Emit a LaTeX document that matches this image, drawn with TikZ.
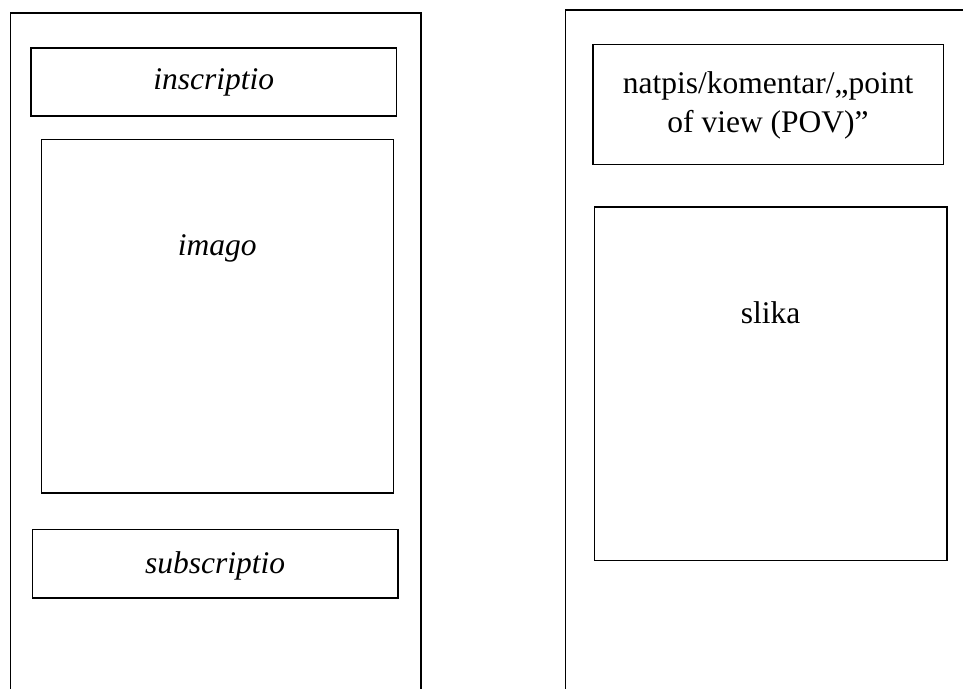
\documentclass[tikz,border=0pt]{standalone}
\usepackage{fontspec}
\setmainfont{Liberation Serif}
\begin{document}
\begin{tikzpicture}[x=1pt,y=-1pt,
  frame/.style={line width=1.6pt,line join=miter},
  box/.style={draw,line width=1.6pt,inner sep=0pt},
  lbl/.style={anchor=base,inner sep=0pt,align=center,font=\fontsize{31.5}{36}\selectfont}]
\useasboundingbox (0,0) rectangle (963,688);
% outer frames (open at the bottom / right edge of the page)
\coordinate (lbl1) at (10.5,690);
\coordinate (ltl) at (10.5,12.7);
\coordinate (ltr) at (420.7,12.7);
\coordinate (lbr) at (420.7,690);
\draw[frame] (lbl1) -- (ltl) -- (ltr) -- (lbr);
\coordinate (rbl) at (565.3,690);
\coordinate (rtl) at (565.3,10);
\coordinate (rtr) at (965,10);
\draw[frame] (rbl) -- (rtl) -- (rtr);
% left column
\node[box,minimum width=365.3pt,minimum height=68.3pt] (inscr) at (213.7,81.9) {};
\node[box,minimum width=352pt,minimum height=353.3pt] (imago) at (217.3,316.3) {};
\node[box,minimum width=365.7pt,minimum height=68.4pt] (subscr) at (215.2,563.5) {};
\node[lbl] (tinscr) at (213.7,89) {\itshape inscriptio};
\node[lbl] (timago) at (217.3,255) {\itshape imago};
\node[lbl] (tsubscr) at (215.2,573) {\itshape subscriptio};
% right column
\node[box,minimum width=350.6pt,minimum height=120pt] (natpis) at (768,104.3) {};
\node[box,minimum width=352.4pt,minimum height=353.6pt] (slika) at (770.5,383.5) {};
\node[lbl] (tnatpis1) at (768,93) {natpis/komentar/„point};
\node[lbl] (tnatpis2) at (768,132) {of view (POV)”};
\node[lbl] (tslika) at (770.5,323) {slika};
\end{tikzpicture}
\end{document}
